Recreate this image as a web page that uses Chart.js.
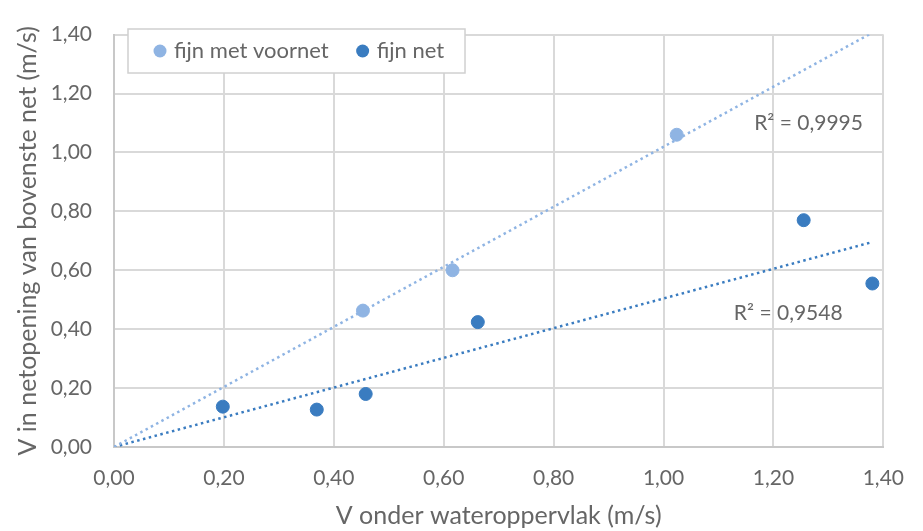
<!DOCTYPE html>
<html>
<head>
<meta charset="utf-8">
<script src="https://cdn.jsdelivr.net/npm/chart.js@4"></script>
<style>
  html, body { margin: 0; padding: 0; background: #fff; }
  #wrap { width: 923px; height: 531px; }
</style>
</head>
<body>
<div id="wrap"><canvas id="chart"></canvas></div>
<script>
// measurements: velocity below water surface vs velocity in net opening
const voornetX = [0.453, 0.616, 1.024];
const voornetY = [0.463, 0.600, 1.060];
const netX = [0.198, 0.369, 0.458, 0.662, 1.255, 1.380];
const netY = [0.137, 0.127, 0.180, 0.424, 0.770, 0.555];

const seriesNames = ["fijn met voornet", "fijn net"];
const r2Labels = ["R² = 0,9995", "R² = 0,9548"];

const lightBlue = "#8fb4e3";
const darkBlue = "#3a7cc0";
const textGrey = "#666666";

// least squares line through the origin
function slopeThroughOrigin(xs, ys) {
  let sxy = 0, sxx = 0;
  xs.forEach((x, i) => { sxy += x * ys[i]; sxx += x * x; });
  return sxy / sxx;
}

const toPoints = (xs, ys) => xs.map((x, i) => ({ x: x, y: ys[i] }));

const kLight = slopeThroughOrigin(voornetX, voornetY);
const kDark = slopeThroughOrigin(netX, netY);
const darkEnd = Math.max(...netX);

const fmt = v => v.toFixed(2).replace(".", ",");

// R² text next to each trendline, plus the framed legend inside the plot
const annotations = {
  id: "annotations",
  afterDatasetsDraw(chart) {
    const { ctx, scales: { x, y } } = chart;
    ctx.save();
    ctx.font = "21px Lato";
    ctx.fillStyle = textGrey;
    ctx.textBaseline = "middle";
    ctx.textAlign = "left";
    ctx.fillText(r2Labels[0], x.getPixelForValue(1.165), y.getPixelForValue(1.10));
    ctx.fillText(r2Labels[1], x.getPixelForValue(1.128), y.getPixelForValue(0.455));

    // legend box
    const bx = 128, by = 29, bw = 337, bh = 44;
    ctx.fillStyle = "#fff";
    ctx.fillRect(bx, by, bw, bh);
    ctx.strokeStyle = "#d0d0d0";
    ctx.lineWidth = 1.5;
    ctx.strokeRect(bx, by, bw, bh);
    ctx.font = "22px Lato";
    const items = chart.data.datasets.filter(d => !d.isTrend);
    let cx = bx + 32;
    items.forEach(d => {
      ctx.beginPath();
      ctx.arc(cx, by + bh / 2, 6.5, 0, Math.PI * 2);
      ctx.fillStyle = d.backgroundColor;
      ctx.fill();
      ctx.fillStyle = textGrey;
      ctx.fillText(d.label, cx + 14, by + bh / 2);
      cx += 14 + ctx.measureText(d.label).width + 34;
    });
    ctx.restore();
  }
};

new Chart(document.getElementById("chart"), {
  type: "scatter",
  plugins: [annotations],
  data: {
    datasets: [
      {
        label: seriesNames[0],
        data: toPoints(voornetX, voornetY),
        backgroundColor: lightBlue,
        borderColor: lightBlue,
        pointRadius: 6.5,
        order: 1
      },
      {
        label: seriesNames[1],
        data: toPoints(netX, netY),
        backgroundColor: darkBlue,
        borderColor: darkBlue,
        pointRadius: 6.5,
        order: 1
      },
      {
        label: "trend voornet",
        isTrend: true,
        type: "line",
        data: [{ x: 0, y: 0 }, { x: 1.4, y: 1.4 * kLight }],
        borderColor: lightBlue,
        borderWidth: 2.5,
        borderDash: [2.5, 3.5],
        pointRadius: 0,
        fill: false,
        order: 2
      },
      {
        label: "trend net",
        isTrend: true,
        type: "line",
        data: [{ x: 0, y: 0 }, { x: darkEnd, y: darkEnd * kDark }],
        borderColor: darkBlue,
        borderWidth: 2.5,
        borderDash: [2.5, 3.5],
        pointRadius: 0,
        fill: false,
        order: 2
      }
    ]
  },
  options: {
    responsive: true,
    maintainAspectRatio: false,
    animation: false,
    layout: { padding: { top: 18, right: 39, left: 0, bottom: 0 } },
    plugins: {
      legend: { display: false },
      tooltip: { enabled: false }
    },
    scales: {
      x: {
        type: "linear",
        min: 0,
        max: 1.4,
        afterFit: s => { s.height = 84; },
        ticks: {
          stepSize: 0.2,
          padding: 19,
          color: textGrey,
          font: { family: "Lato", size: 21 },
          callback: v => fmt(v)
        },
        grid: { color: "#d9d9d9", lineWidth: 2, drawTicks: false },
        border: { color: "#c8c8c8", width: 2 },
        title: {
          display: true,
          text: "V onder wateroppervlak (m/s)",
          color: textGrey,
          font: { family: "Lato", size: 25 },
          padding: { top: 0, bottom: 0 }
        }
      },
      y: {
        type: "linear",
        min: 0,
        max: 1.4,
        afterFit: s => { s.width = 114; },
        ticks: {
          stepSize: 0.2,
          padding: 22,
          color: textGrey,
          font: { family: "Lato", size: 21 },
          callback: v => fmt(v)
        },
        grid: { color: "#d9d9d9", lineWidth: 2, drawTicks: false },
        border: { color: "#c8c8c8", width: 2 },
        title: {
          display: true,
          text: "V in netopening van bovenste net (m/s)",
          color: textGrey,
          font: { family: "Lato", size: 25 },
          padding: { top: 13, bottom: 0 }
        }
      }
    }
  }
});
</script>
</body>
</html>
